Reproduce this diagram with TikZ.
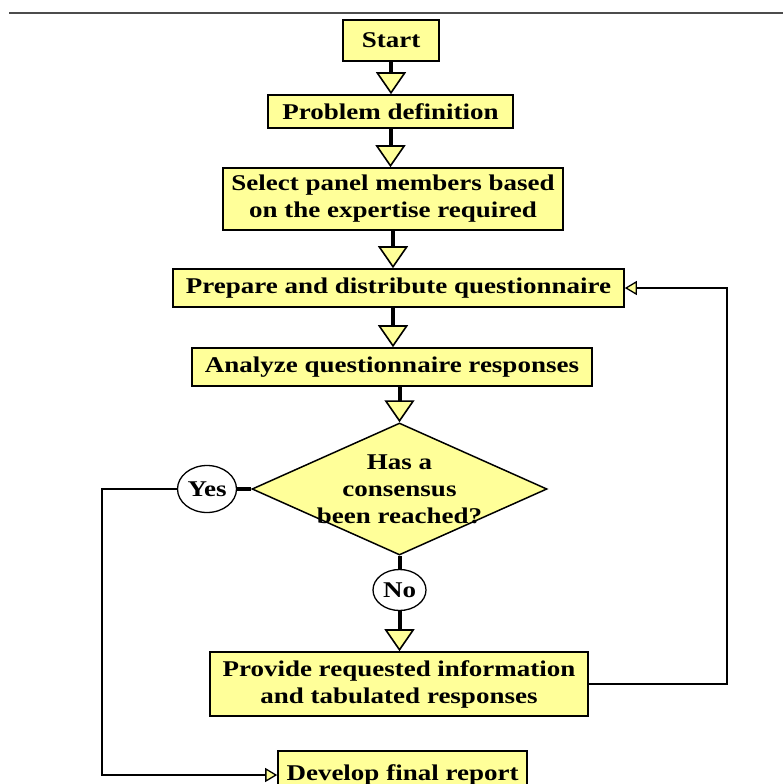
\documentclass[tikz,border=0pt]{standalone}
\usepackage{fontspec}
\usepackage{tikz}
\usetikzlibrary{shapes.geometric,arrows.meta}
\newfontfamily\chartfont{Liberation Serif}[FakeStretch=1.2]
\definecolor{boxyellow}{RGB}{255,255,153}
\def\chartlabel{\chartfont\bfseries\fontsize{22.5}{27}\selectfont}
\tikzset{
  stepbox/.style={draw,line width=1.6pt,fill=boxyellow,inner sep=0pt,align=center,font=\chartlabel},
  decision/.style={diamond,draw,line width=1.5pt,fill=boxyellow,aspect=2.235,inner sep=-14pt,align=center,font=\chartlabel},
  answer/.style={ellipse,draw,line width=1.3pt,fill=white,inner sep=0pt,font=\chartlabel},
  flow/.style={line width=4pt,-{Triangle[width=30pt,length=22pt,fill=boxyellow,line width=1.6pt 0]}},
  joint/.style={line width=4pt},
  backline/.style={line width=1.5pt,-{Triangle[width=14pt,length=12pt,fill=boxyellow,line width=1.3pt 0]}}
}

\begin{document}
\begin{tikzpicture}[x=1pt,y=-1pt]
    \useasboundingbox (0,0) rectangle (783,784);
    \draw[line width=1.5pt,black!70] (9,13) -- (783,13);
      \node[stepbox,minimum width=96pt,minimum height=41pt] (start) at (391,40.5) {Start};
      \node[stepbox,minimum width=245pt,minimum height=33pt] (define) at (390.5,111.5) {Problem definition};
      \node[stepbox,minimum width=340pt,minimum height=62pt] (select) at (393,199) {Select panel members based\\on the expertise required};
      \node[stepbox,minimum width=451pt,minimum height=38pt] (prepare) at (398.5,288) {Prepare and distribute questionnaire};
      \node[stepbox,minimum width=400pt,minimum height=38pt] (analyze) at (392,367) {Analyze questionnaire responses};
      \node[decision,minimum width=295pt,minimum height=132pt] (consensus) at (399.5,489) {Has a\\consensus\\been reached?};
      \node[answer,minimum width=59pt,minimum height=47pt] (yes) at (207,489) {Yes};
      \node[answer,minimum width=53pt,minimum height=41pt] (no) at (399.5,590) {No};
      \node[stepbox,minimum width=378pt,minimum height=64pt] (provide) at (399,684) {Provide requested information\\and tabulated responses};
      \node[stepbox,minimum width=249pt,minimum height=48pt] (report) at (402.5,775) {Develop final report};
    \draw[flow] (start.south) -- (start.south |- define.north);
    \draw[flow] (define.south) -- (define.south |- select.north);
    \draw[flow] (select.south) -- (select.south |- prepare.north);
    \draw[flow] (select.south |- prepare.south) -- (select.south |- analyze.north);
    \draw[flow] (consensus.north |- analyze.south) -- (consensus.north);
    \draw[joint] (consensus.south) -- (no.north);
    \draw[flow] (no.south) -- (no.south |- provide.north);
    \draw[joint] (consensus.west) -- (yes.east);
    \draw[backline] (provide.east) -- ++(138,0) |- (prepare.east);
    \draw[backline] (yes.west) -- ++(-75,0) |- (report.west);
\end{tikzpicture}
\end{document}
